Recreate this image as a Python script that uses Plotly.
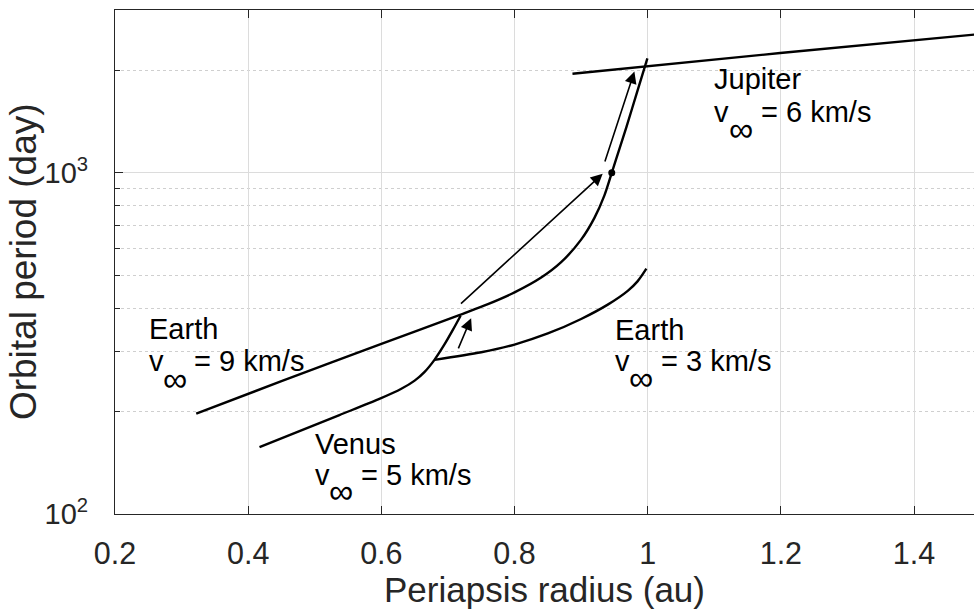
import numpy as np
import plotly.graph_objects as go

# ---------------- data ----------------
earth9_x = [0.322, 0.45, 0.60, 0.717, 0.76, 0.80, 0.84, 0.87, 0.90, 0.92, 0.935, 0.946,
            0.958, 0.968, 0.983, 0.9995]
earth9_y = [197, 245, 315, 383, 412, 446, 493, 547, 637, 738, 859, 1000,
            1183, 1361, 1698, 2165]

earth3_x = [0.68, 0.75, 0.80, 0.85, 0.90, 0.94, 0.97, 0.985, 0.998]
earth3_y = [283, 297.9, 313.8, 338.1, 372.9, 410.8, 450.8, 481.4, 523.5]

venus5_x = [0.417, 0.477, 0.537, 0.597, 0.63, 0.65, 0.665, 0.68, 0.695, 0.708, 0.719]
venus5_y = [157, 175, 195, 217.4, 232.8, 246, 261, 283.5, 314.5, 348, 381]

jupiter6_x = [0.887, 1.199, 1.5]
jupiter6_y = [1951, 2244, 2552]

dot_x = [0.946]
dot_y = [1000]

# arrows: tail (x0, y0) -> tip (x1, y1)
arrow_x0 = [0.7147, 0.7173, 0.935]
arrow_y0 = [302.7, 410, 1068]
arrow_x1 = [0.7348, 0.9324, 0.980]
arrow_y1 = [374.9, 993, 1982]

x_ticks = [0.2, 0.4, 0.6, 0.8, 1.0, 1.2, 1.4]
x_ticktext = ["0.2", "0.4", "0.6", "0.8", "1", "1.2", "1.4"]
y_ticks = [100, 1000]
y_ticktext = ["10<sup>2</sup>", "10<sup>3</sup>"]
y_minor = [200, 300, 400, 500, 600, 700, 800, 900, 2000]

label_names = ["Earth", "Venus", "Earth", "Jupiter"]
label_speeds = ["= 9 km/s", "= 5 km/s", "= 3 km/s", "= 6 km/s"]
# label anchor positions in data coordinates
name_x = [0.251, 0.5003, 0.9508, 1.0995]
name_y = [347.5, 160.1, 346, 1885]
v_y = [281, 129.9, 281, 1505]
inf_x = [0.290, 0.539, 0.9895, 1.1397]
inf_y = [248.9, 117, 250, 1346]
speed_x = [0.3186, 0.5694, 1.0198, 1.170]

FONT = "Liberation Sans, Arial, Helvetica, sans-serif"
INK = "#262626"

fig = go.Figure()
line_style = dict(color="black", width=2.4, shape="spline", smoothing=0.8)
for xs, ys in [(earth9_x, earth9_y), (earth3_x, earth3_y), (venus5_x, venus5_y), (jupiter6_x, jupiter6_y)]:
    fig.add_trace(go.Scatter(x=xs, y=ys, mode="lines", line=line_style, showlegend=False, hoverinfo="skip"))

fig.add_trace(go.Scatter(x=dot_x, y=dot_y, mode="markers", marker=dict(size=7, color="black"),
                         showlegend=False, hoverinfo="skip"))

for x0, y0, x1, y1 in zip(arrow_x0, arrow_y0, arrow_x1, arrow_y1):
    fig.add_annotation(x=x1, y=np.log10(y1), ax=x0, ay=np.log10(y0), xref="x", yref="y",
                       axref="x", ayref="y", text="", showarrow=True, arrowhead=2,
                       arrowsize=1.5, arrowwidth=1.6, arrowcolor="black", standoff=0, startstandoff=0)

tf = dict(family=FONT, size=29, color="black")
for i in range(4):
    fig.add_annotation(x=name_x[i], y=np.log10(name_y[i]), xref="x", yref="y", text=label_names[i],
                       showarrow=False, xanchor="left", yanchor="middle", font=tf, borderpad=0, borderwidth=0)
    fig.add_annotation(x=name_x[i], y=np.log10(v_y[i]), xref="x", yref="y", text="v",
                       showarrow=False, xanchor="left", yanchor="middle", font=tf, borderpad=0, borderwidth=0)
    fig.add_annotation(x=inf_x[i], y=np.log10(inf_y[i]), xref="x", yref="y", text="∞",
                       showarrow=False, xanchor="center", yanchor="middle",
                       font=dict(family=FONT, size=34, color="black"), borderpad=0, borderwidth=0)
    fig.add_annotation(x=speed_x[i], y=np.log10(v_y[i]), xref="x", yref="y", text=label_speeds[i],
                       showarrow=False, xanchor="left", yanchor="middle", font=tf, borderpad=0, borderwidth=0)

# axis titles
fig.add_annotation(x=0.5, y=-0.149, xref="paper", yref="paper", text="Periapsis radius (au)",
                   showarrow=False, xanchor="center", yanchor="middle",
                   font=dict(family=FONT, size=35, color=INK))
fig.add_annotation(x=-0.107, y=0.5, xref="paper", yref="paper", text="Orbital period (day)",
                   textangle=-90, showarrow=False, xanchor="center", yanchor="middle",
                   font=dict(family=FONT, size=37, color=INK))

fig.update_layout(
    width=974, height=615,
    margin=dict(l=115, r=0, t=10, b=101),
    paper_bgcolor="white", plot_bgcolor="white",
    font=dict(family=FONT, size=29, color=INK),
    showlegend=False,
)
fig.update_xaxes(
    range=[0.2, 1.49], tickmode="array", tickvals=x_ticks, ticktext=x_ticktext,
    ticks="inside", ticklen=8, tickwidth=1, tickcolor=INK,
    showline=True, linecolor=INK, linewidth=1.2, mirror="ticks",
    showgrid=True, gridcolor="#dcdcdc", gridwidth=1, zeroline=False,
    tickfont=dict(family=FONT, size=30.5, color=INK), ticklabelstandoff=12,
)
fig.update_yaxes(
    type="log", range=[2, np.log10(3000)], tickmode="array", tickvals=y_ticks, ticktext=y_ticktext,
    ticks="inside", ticklen=8, tickwidth=1, tickcolor=INK,
    showline=True, linecolor=INK, linewidth=1.2, mirror=False,
    showgrid=True, gridcolor="#dcdcdc", gridwidth=1, zeroline=False,
    tickfont=dict(family=FONT, size=29, color=INK), ticklabelstandoff=20,
    minor=dict(tickmode="array", tickvals=y_minor, ticks="inside", ticklen=5, tickcolor=INK,
               showgrid=True, gridcolor="#cfcfcf", griddash="dot", gridwidth=1),
)

fig.write_html("out.html")
